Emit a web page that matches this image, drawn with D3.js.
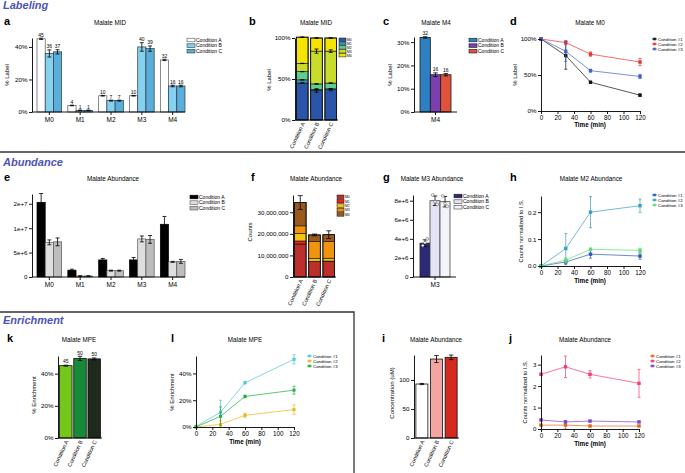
<!DOCTYPE html>
<html>
<head>
<meta charset="utf-8">
<script src="https://cdn.jsdelivr.net/npm/d3@7"></script>
<style>
  body { margin: 0; background: #fff; }
  svg { font-family: "Liberation Sans", Arial, sans-serif; }
</style>
</head>
<body>
<svg id="fig" width="685" height="473"></svg>
<script>
// ---- data ----
const isotopologues = ["M0", "M1", "M2", "M3", "M4"];
const conditions = ["Condition A", "Condition B", "Condition C"];
const timeConditions = ["Condition #1", "Condition #2", "Condition #3"];
const timePoints = [0, 30, 60, 120];

// a, b: Malate MID (% label)
const midA = [45, 4, 10, 10, 32];
const midB = [36, 1, 7, 40, 16];
const midC = [37, 1, 7, 39, 16];
const midErrA = [0.4, 0.2, 0.2, 0.2, 0.4];
const midErrB = [2.2, 0.2, 0.3, 2.6, 0.5];
const midErrC = [1.3, 0.2, 0.3, 1.6, 0.5];

// c: Malate M4 (% label)
const m4Pct = [32, 16, 16];
const m4Err = [0.3, 0.8, 0.5];

// d: Malate M0 over time (% label)
const m0Cond1 = [100, 77, 40, 22];
const m0Cond2 = [100, 95, 79, 68];
const m0Cond3 = [100, 83, 56, 48];
const m0Err1 = [0, 19, 1, 1.5];
const m0Err2 = [0, 3, 3, 5];
const m0Err3 = [0, 14, 2, 3];

// e, f: Malate abundance (counts)
const abundA = [15.3e6, 1.4e6, 3.5e6, 3.5e6, 10.8e6];
const abundB = [7.1e6, 0.2e6, 1.3e6, 7.8e6, 3.1e6];
const abundC = [7.2e6, 0.2e6, 1.3e6, 7.7e6, 3.2e6];
const abundErrA = [1.8e6, 0.2e6, 0.3e6, 0.5e6, 1.6e6];
const abundErrB = [0.5e6, 0.05e6, 0.1e6, 0.6e6, 0.1e6];
const abundErrC = [0.8e6, 0.05e6, 0.1e6, 0.8e6, 0.4e6];
const abundTicks = [0, 5e6, 1e7, 1.5e7];
const abundTickLabels = ["0", "5e+6", "1e+7", "2e+7"];
const totalAbundErr = [3.2e6, 0.4e6, 1.8e6];

// g: Malate M3 abundance
const m3Abund = [3.55e6, 8.0e6, 7.9e6];
const m3AbundErr = [0.35e6, 0.5e6, 0.55e6];
const m3Reps = [[3.3e6, 3.6e6, 4.0e6], [8.6e6, 7.9e6, 7.6e6], [8.5e6, 7.7e6, 7.4e6]];

// h: Malate M2 abundance over time (normalized to I.S.)
const m2Cond1 = [0, 0.015, 0.044, 0.037];
const m2Cond2 = [0, 0.065, 0.2, 0.224];
const m2Cond3 = [0, 0.022, 0.062, 0.058];
const m2Err1 = [0, 0.01, 0.015, 0.012];
const m2Err2 = [0, 0.056, 0.058, 0.025];
const m2Err3 = [0, 0.008, 0.004, 0.008];

// k: Malate MPE
const mpe = [45, 49.5, 49.2];
const mpeErr = [0.3, 1.3, 0.6];
const mpeLabels = ["45", "50", "50"];

// l: Malate MPE over time
const mpeCond1 = [0.5, 11, 33, 50.5];
const mpeCond2 = [0, 2, 8.7, 13];
const mpeCond3 = [0, 8, 22.8, 27.5];
const mpeErr1 = [0, 9, 0.8, 3.5];
const mpeErr2 = [0, 2.5, 1.5, 3.5];
const mpeErr3 = [0, 7, 1, 3];

// i: Malate concentration (uM)
const concentration = [93, 136, 139];
const concentrationErr = [1, 6, 4];

// j: Malate abundance over time (normalized to I.S.)
const normCond1 = [0.18, 0.18, 0.14, 0.14];
const normCond2 = [2.55, 2.9, 2.55, 2.13];
const normCond3 = [0.42, 0.33, 0.37, 0.33];
const normErr1 = [0.02, 0.2, 0.03, 0.02];
const normErr2 = [0.05, 0.5, 0.17, 0.65];
const normErr3 = [0.04, 0.05, 0.03, 0.03];

// ---- helpers ----
const FONT = '"Liberation Sans", Arial, sans-serif';
const svg = d3.select("#fig");

function txt(x, y, s, size, opt = {}) {
  const t = svg.append("text").attr("x", x).attr("y", y).text(s)
    .attr("font-size", size)
    .attr("text-anchor", opt.anchor || "middle")
    .attr("font-weight", opt.weight || "normal")
    .attr("fill", opt.fill || "#000");
  if (opt.rotate) t.attr("transform", `rotate(${opt.rotate},${x},${y})`);
  if (opt.italic) t.attr("font-style", "italic");
  return t;
}

function styleAxis(g, size) {
  g.attr("font-family", FONT).attr("font-size", size || 6);
  g.selectAll("path, line").attr("stroke", "#000").attr("stroke-width", 0.9);
  return g;
}

function yAxis(scale, x0, ticks, fmt) {
  const g = svg.append("g").attr("transform", `translate(${x0},0)`)
    .call(d3.axisLeft(scale).tickValues(ticks).tickFormat(fmt)
      .tickSizeInner(3).tickSizeOuter(0).tickPadding(1.5));
  return styleAxis(g, 6.2);
}

function xAxisBand(scale, y0, x0, x1, rotate) {
  const g = svg.append("g").attr("transform", `translate(0,${y0})`)
    .call(d3.axisBottom(scale).tickSizeInner(rotate ? 0 : 3).tickSizeOuter(0).tickPadding(2));
  g.select(".domain").attr("d", `M${x0},0H${x1}`);
  styleAxis(g, rotate ? 5.5 : 6.5);
  if (rotate) {
    g.selectAll(".tick text")
      .attr("text-anchor", "end").attr("x", -2).attr("y", 2).attr("dy", "0.35em")
      .attr("transform", "rotate(-65)");
  }
  return g;
}

function xAxisTime(scale, y0) {
  const g = svg.append("g").attr("transform", `translate(0,${y0})`)
    .call(d3.axisBottom(scale).tickValues([0, 20, 40, 60, 80, 100, 120])
      .tickSizeInner(3).tickSizeOuter(0).tickPadding(1.5));
  return styleAxis(g, 6.3);
}

function errBar(g, cx, yTop, yBot, capW, color, sw) {
  g.append("line").attr("x1", cx).attr("x2", cx).attr("y1", yTop).attr("y2", yBot)
    .attr("stroke", color).attr("stroke-width", sw);
  [yTop, yBot].forEach(yy => g.append("line")
    .attr("x1", cx - capW / 2).attr("x2", cx + capW / 2).attr("y1", yy).attr("y2", yy)
    .attr("stroke", color).attr("stroke-width", sw));
}

function barLegend(x, y0, names, fills, strokes) {
  const g = svg.append("g");
  names.forEach((n, i) => {
    const yy = y0 + i * 5.6;
    g.append("rect").attr("x", x).attr("y", yy - 1.8).attr("width", 8).attr("height", 3.6)
      .attr("fill", fills[i]).attr("stroke", strokes[i]).attr("stroke-width", 0.6);
    g.append("text").attr("x", x + 9).attr("y", yy + 1.7).attr("font-size", 5).text(n);
  });
}

function lineLegend(x, y0, names, colors) {
  const g = svg.append("g");
  names.forEach((n, i) => {
    const yy = y0 + i * 5;
    g.append("line").attr("x1", x).attr("x2", x + 5).attr("y1", yy).attr("y2", yy)
      .attr("stroke", colors[i]).attr("stroke-width", 0.8);
    g.append("rect").attr("x", x + 1.2).attr("y", yy - 1.3).attr("width", 2.6).attr("height", 2.6)
      .attr("fill", colors[i]);
    g.append("text").attr("x", x + 6).attr("y", yy + 1.6).attr("font-size", 4.4).text(n);
  });
}

function groupedBars(xScale, yScale, groups, values, errs, fills, strokes, showLabels) {
  const sub = d3.scaleBand().domain(d3.range(values.length)).range([0, xScale.bandwidth()]);
  values.forEach((vals, ci) => {
    const g = svg.append("g");
    const rows = vals.map((v, gi) => ({ key: groups[gi], v, e: errs[ci][gi] }));
    g.selectAll("rect").data(rows).join("rect")
      .attr("x", d => xScale(d.key) + sub(ci))
      .attr("y", d => yScale(d.v))
      .attr("width", sub.bandwidth())
      .attr("height", d => yScale(0) - yScale(d.v))
      .attr("fill", fills[ci]).attr("stroke", strokes[ci]).attr("stroke-width", 0.7);
    rows.forEach(d => {
      const cx = xScale(d.key) + sub(ci) + sub.bandwidth() / 2;
      errBar(g, cx, yScale(d.v + d.e), yScale(Math.max(0, d.v - d.e)), 4, "#000", 0.8);
      if (showLabels) {
        g.append("text").attr("x", cx).attr("y", yScale(d.v + d.e) - 1.5)
          .attr("text-anchor", "middle").attr("font-size", 5).text(Math.round(d.v));
      }
    });
  });
}

function simpleBars(xScale, yScale, values, errs, fills, strokes, labels) {
  const rows = values.map((v, i) => ({ key: conditions[i], v, e: errs[i] }));
  const g = svg.append("g");
  g.selectAll("rect").data(rows).join("rect")
    .attr("x", d => xScale(d.key)).attr("y", d => yScale(d.v))
    .attr("width", xScale.bandwidth()).attr("height", d => yScale(0) - yScale(d.v))
    .attr("fill", (d, i) => fills[i]).attr("stroke", (d, i) => strokes[i]).attr("stroke-width", 0.8);
  rows.forEach((d, i) => {
    const cx = xScale(d.key) + xScale.bandwidth() / 2;
    errBar(g, cx, yScale(d.v + d.e), yScale(d.v - d.e), 4.5, "#000", 0.8);
    if (labels) g.append("text").attr("x", cx).attr("y", yScale(d.v + d.e) - 1.8)
      .attr("text-anchor", "middle").attr("font-size", 5).text(labels[i]);
  });
  return g;
}

function stackedBars(xScale, yScale, rowsData, colors) {
  const stack = d3.stack().keys(isotopologues)(rowsData);
  const g = svg.append("g");
  stack.forEach((layer, li) => {
    g.append("g").selectAll("rect").data(layer).join("rect")
      .attr("x", d => xScale(d.data.cond)).attr("y", d => yScale(d[1]))
      .attr("width", xScale.bandwidth()).attr("height", d => yScale(d[0]) - yScale(d[1]))
      .attr("fill", colors[li]).attr("stroke", "#111").attr("stroke-width", 0.6);
  });
  rowsData.forEach(r => {
    const tot = d3.sum(isotopologues, k => r[k]);
    g.append("rect").attr("x", xScale(r.cond)).attr("y", yScale(tot))
      .attr("width", xScale.bandwidth()).attr("height", yScale(0) - yScale(tot))
      .attr("fill", "none").attr("stroke", "#111").attr("stroke-width", 0.9);
  });
  return g;
}

function lineChart(x, y, series, errs, colors, size) {
  series.forEach((vals, i) => {
    const pts = timePoints.map((t, j) => ({ t, v: vals[j], e: errs[i][j] }));
    const g = svg.append("g");
    g.append("path").datum(pts).attr("fill", "none").attr("stroke", colors[i]).attr("stroke-width", 0.7)
      .attr("d", d3.line().x(d => x(d.t)).y(d => y(d.v)));
    pts.filter(d => d.e > 0).forEach(d =>
      errBar(g, x(d.t), y(d.v + d.e), y(Math.max(0, d.v - d.e)), 3, colors[i], 0.7));
    g.selectAll("rect").data(pts).join("rect")
      .attr("x", d => x(d.t) - size / 2).attr("y", d => y(d.v) - size / 2)
      .attr("width", size).attr("height", size).attr("fill", colors[i]);
  });
}

const pct = d => d + "%";

// ---- section frames ----
svg.append("line").attr("x1", 0).attr("x2", 685).attr("y1", 152).attr("y2", 152)
  .attr("stroke", "#333").attr("stroke-width", 1.3);
svg.append("path").attr("d", "M0,312H354V473").attr("fill", "none")
  .attr("stroke", "#333").attr("stroke-width", 1.3);

const HEAD = "#4d54b8";
txt(3, 9, "Labeling", 11, { anchor: "start", weight: "bold", italic: true, fill: HEAD });
txt(3, 166, "Abundance", 11, { anchor: "start", weight: "bold", italic: true, fill: HEAD });
txt(3, 324, "Enrichment", 11, { anchor: "start", weight: "bold", italic: true, fill: HEAD });

// ---- a: Malate MID grouped bars ----
{
  txt(4, 25, "a", 11, { anchor: "start", weight: "bold" });
  txt(110, 25, "Malate MID", 6.3);
  const y = d3.scaleLinear().domain([0, 45.5]).range([112, 38]);
  const x = d3.scaleBand().domain(isotopologues).range([37, 185]).paddingInner(0.2);
  const fills = ["#ffffff", "#86d1ef", "#5aaed9"];
  const strokes = ["#555", "#2a3a4a", "#2a3a4a"];
  groupedBars(x, y, isotopologues, [midA, midB, midC], [midErrA, midErrB, midErrC], fills, strokes, true);
  yAxis(y, 32, [0, 20, 40], pct);
  xAxisBand(x, 112, 32, 185, false);
  txt(9, 75, "% Label", 6, { rotate: -90 });
  barLegend(187, 40, conditions, fills, strokes);
}

// ---- b: Malate MID stacked ----
{
  txt(249, 25, "b", 11, { anchor: "start", weight: "bold" });
  txt(316, 25, "Malate MID", 6.3);
  const y = d3.scaleLinear().domain([0, 100]).range([120, 38]);
  const x = d3.scaleBand().domain(conditions).range([295, 338]).paddingInner(0.18).paddingOuter(0.1);
  const colors = ["#2b55a8", "#3a8fae", "#5ccf8c", "#c9dc2c", "#f4e400"];
  const rows = [midA, midB, midC].map((v, i) => {
    const r = { cond: conditions[i] };
    isotopologues.forEach((k, j) => r[k] = v[j]);
    return r;
  });
  const g = stackedBars(x, y, rows, colors);
  [midErrA, midErrB, midErrC].forEach((errs, ri) => {
    let cum = 0;
    errs.forEach((e, j) => {
      cum += rows[ri][isotopologues[j]];
      errBar(g, x(conditions[ri]) + x.bandwidth() / 2, y(cum + e), y(cum - e), 4, "#000", 0.8);
    });
  });
  yAxis(y, 295, [0, 50, 100], pct);
  xAxisBand(x, 120, 295, 338, true);
  txt(271, 80, "% Label", 6, { rotate: -90 });
  const lg = svg.append("g");
  isotopologues.forEach((k, i) => {
    lg.append("rect").attr("x", 339).attr("y", 38 + i * 3.9).attr("width", 7).attr("height", 3.3)
      .attr("fill", colors[i]).attr("stroke", "#111").attr("stroke-width", 0.5);
    lg.append("text").attr("x", 347).attr("y", 41 + i * 3.9).attr("font-size", 3.4).text(k);
  });
}

// ---- c: Malate M4 ----
{
  txt(383, 25, "c", 11, { anchor: "start", weight: "bold" });
  txt(436, 25, "Malate M4", 6.3);
  const y = d3.scaleLinear().domain([0, 32.2]).range([112, 37]);
  const x = d3.scaleBand().domain(conditions).range([420, 451]);
  const groupX = d3.scaleBand().domain(["M4"]).range([420, 451]);
  const fills = ["#2f80c2", "#7a40b0", "#e0533a"];
  const strokes = ["#1a1a1a", "#1a1a1a", "#1a1a1a"];
  simpleBars(x, y, m4Pct, m4Err, fills, strokes, m4Pct.map(String));
  yAxis(y, 414, [0, 10, 20, 30], pct);
  xAxisBand(groupX, 112, 414, 457, false);
  txt(392, 75, "% Label", 6, { rotate: -90 });
  barLegend(469, 40, conditions, fills, strokes);
}

// ---- d: Malate M0 time course ----
{
  txt(510, 25, "d", 11, { anchor: "start", weight: "bold" });
  txt(590, 25, "Malate M0", 6.3);
  const x = d3.scaleLinear().domain([0, 120]).range([541, 640]);
  const y = d3.scaleLinear().domain([0, 100]).range([111, 39]);
  lineChart(x, y, [m0Cond1, m0Cond2, m0Cond3], [m0Err1, m0Err2, m0Err3],
    ["#111111", "#e8322e", "#3b63c8"], 3.4);
  yAxis(y, 541, [0, 50, 100], pct);
  xAxisTime(x, 111);
  txt(590, 127, "Time (min)", 6.3, { weight: "bold" });
  txt(517, 75, "% Label", 6, { rotate: -90 });
  lineLegend(652, 39, timeConditions, ["#111111", "#e8322e", "#3b63c8"]);
}

// ---- e: Malate abundance grouped bars ----
{
  txt(4, 181, "e", 11, { anchor: "start", weight: "bold" });
  txt(113, 181, "Malate Abundance", 6.3);
  const y = d3.scaleLinear().domain([0, 17e6]).range([277, 194]);
  const x = d3.scaleBand().domain(isotopologues).range([37, 185]).paddingInner(0.2);
  const fills = ["#000000", "#dedede", "#bdbdbd"];
  const strokes = ["#000", "#555", "#555"];
  groupedBars(x, y, isotopologues, [abundA, abundB, abundC], [abundErrA, abundErrB, abundErrC], fills, strokes, false);
  yAxis(y, 32, abundTicks, (d, i) => abundTickLabels[i]);
  xAxisBand(x, 277, 32, 185, false);
  barLegend(190, 197, conditions, fills, strokes);
}

// ---- f: Malate abundance stacked ----
{
  txt(251, 181, "f", 11, { anchor: "start", weight: "bold" });
  txt(316, 181, "Malate Abundance", 6.3);
  const y = d3.scaleLinear().domain([0, 38e6]).range([277, 195]);
  const x = d3.scaleBand().domain(conditions).range([293, 336]).paddingInner(0.18).paddingOuter(0.1);
  const colors = ["#bd2f2a", "#e8221d", "#f3c412", "#f0930f", "#9b5a1b"];
  const rows = [abundA, abundB, abundC].map((v, i) => {
    const r = { cond: conditions[i] };
    isotopologues.forEach((k, j) => r[k] = v[j]);
    return r;
  });
  const g = stackedBars(x, y, rows, colors);
  rows.forEach((r, i) => {
    const tot = d3.sum(isotopologues, k => r[k]);
    errBar(g, x(r.cond) + x.bandwidth() / 2, y(tot + totalAbundErr[i]), y(tot - totalAbundErr[i]), 5, "#000", 0.8);
  });
  yAxis(y, 293, [0, 1e7, 2e7, 3e7], d3.format(","));
  xAxisBand(x, 277, 293, 336, true);
  txt(252, 232, "Counts", 6, { rotate: -90 });
  const lg = svg.append("g");
  isotopologues.forEach((k, i) => {
    lg.append("rect").attr("x", 337).attr("y", 195 + i * 4.4).attr("width", 7).attr("height", 3.6)
      .attr("fill", colors[i]).attr("stroke", "#111").attr("stroke-width", 0.5);
    lg.append("text").attr("x", 345).attr("y", 198.2 + i * 4.4).attr("font-size", 3.4).text(k);
  });
}

// ---- g: Malate M3 abundance ----
{
  txt(383, 181, "g", 11, { anchor: "start", weight: "bold" });
  txt(432, 181, "Malate M3 Abundance", 6.3);
  const y = d3.scaleLinear().domain([0, 8.6e6]).range([277, 195]);
  const x = d3.scaleBand().domain(conditions).range([420, 450]);
  const groupX = d3.scaleBand().domain(["M3"]).range([420, 450]);
  const fills = ["#2c2a78", "#e4e4f5", "#f3f3fb"];
  const strokes = ["#222", "#444", "#444"];
  const g = simpleBars(x, y, m3Abund, m3AbundErr, fills, strokes, null);
  m3Reps.forEach((reps, i) => {
    reps.forEach((v, j) => g.append("circle")
      .attr("cx", x(conditions[i]) + x.bandwidth() / 2 + (j - 1) * 2.2).attr("cy", y(v))
      .attr("r", 1.4).attr("fill", "#fff").attr("stroke", "#444").attr("stroke-width", 0.5));
  });
  yAxis(y, 413, [0, 2e6, 4e6, 6e6, 8e6], d => d === 0 ? "0" : d3.format(".0e")(d));
  xAxisBand(groupX, 277, 413, 456, false);
  barLegend(454, 196, conditions, fills, strokes);
}

// ---- h: Malate M2 abundance time course ----
{
  txt(510, 181, "h", 11, { anchor: "start", weight: "bold" });
  txt(591, 181, "Malate M2 Abundance", 6.3);
  const x = d3.scaleLinear().domain([0, 120]).range([541, 640]);
  const y = d3.scaleLinear().domain([0, 0.26]).range([266, 196]);
  const colors = ["#3557b8", "#3a9ec0", "#5edc7a"];
  lineChart(x, y, [m2Cond1, m2Cond2, m2Cond3], [m2Err1, m2Err2, m2Err3], colors, 3.4);
  yAxis(y, 541, [0, 0.1, 0.2], d3.format(".1f"));
  xAxisTime(x, 266);
  txt(590, 283, "Time (min)", 6.3, { weight: "bold" });
  txt(523, 231, "Counts normalized to I.S.", 5.6, { rotate: -90 });
  lineLegend(652, 195, timeConditions, colors);
}

// ---- k: Malate MPE bars ----
{
  txt(7, 342, "k", 11, { anchor: "start", weight: "bold" });
  txt(79, 342, "Malate MPE", 6.3);
  const y = d3.scaleLinear().domain([0, 51]).range([438, 356]);
  const x = d3.scaleBand().domain(conditions).range([59, 101]).paddingInner(0.12).paddingOuter(0.04);
  simpleBars(x, y, mpe, mpeErr, ["#74c61a", "#168a38", "#1e2a1e"], ["#111", "#111", "#111"], mpeLabels);
  yAxis(y, 58, [0, 20, 40], pct);
  xAxisBand(x, 438, 58, 102, true);
  txt(36, 395, "% Enrichment", 6, { rotate: -90 });
}

// ---- l: Malate MPE time course ----
{
  txt(171, 342, "l", 11, { anchor: "start", weight: "bold" });
  txt(245, 342, "Malate MPE", 6.3);
  const x = d3.scaleLinear().domain([0, 120]).range([196, 294]);
  const y = d3.scaleLinear().domain([0, 53]).range([427, 356]);
  const colors = ["#4cc9d6", "#f2b41c", "#1fae3c"];
  lineChart(x, y, [mpeCond1, mpeCond2, mpeCond3], [mpeErr1, mpeErr2, mpeErr3], colors, 3);
  yAxis(y, 196, [0, 20, 40], pct);
  xAxisTime(x, 427);
  txt(245, 444, "Time (min)", 6.3, { weight: "bold" });
  txt(174, 392, "% Enrichment", 6, { rotate: -90 });
  lineLegend(307, 356, timeConditions, colors);
}

// ---- i: Malate concentration bars ----
{
  txt(382, 342, "i", 11, { anchor: "start", weight: "bold" });
  txt(436, 342, "Malate Abundance", 6.3);
  const y = d3.scaleLinear().domain([0, 143]).range([438, 355]);
  const x = d3.scaleBand().domain(conditions).range([415, 458]).paddingInner(0.18).paddingOuter(0.06);
  simpleBars(x, y, concentration, concentrationErr, ["#ffffff", "#f5a4a4", "#d52b1e"],
    ["#111", "#111", "#111"], null);
  yAxis(y, 414, [0, 50, 100], d3.format("d"));
  xAxisBand(x, 438, 414, 459, true);
  txt(394, 393, "Concentration (uM)", 6, { rotate: -90 });
}

// ---- j: Malate abundance time course ----
{
  txt(509, 342, "j", 11, { anchor: "start", weight: "bold" });
  txt(585, 342, "Malate Abundance", 6.3);
  const x = d3.scaleLinear().domain([0, 120]).range([541, 639]);
  const y = d3.scaleLinear().domain([0, 3.45]).range([429, 355]);
  const colors = ["#e06a22", "#f0406e", "#7a45c8"];
  lineChart(x, y, [normCond1, normCond2, normCond3], [normErr1, normErr2, normErr3], colors, 3.4);
  yAxis(y, 541, [0, 1, 2, 3], d3.format("d"));
  xAxisTime(x, 429);
  txt(590, 446, "Time (min)", 6.3, { weight: "bold" });
  txt(527, 392, "Counts normalized to I.S.", 5.6, { rotate: -90 });
  lineLegend(650, 356, timeConditions, colors);
}
</script>
</body>
</html>
